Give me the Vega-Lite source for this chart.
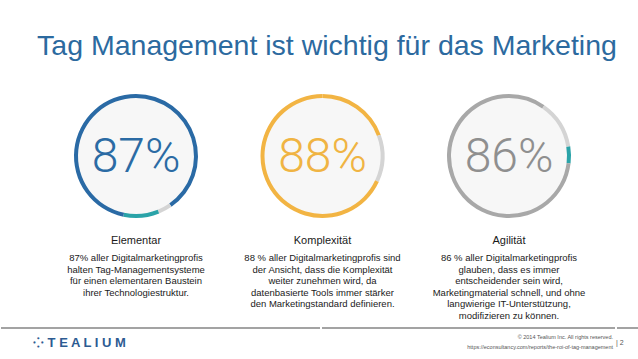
{
  "$schema": "https://vega.github.io/schema/vega-lite/v6.json",
  "background": "white",
  "padding": {"left": 0, "right": 0, "top": 31, "bottom": 0},
  "config": {
    "view": {"stroke": null},
    "font": "Liberation Sans",
    "title": {"font": "Liberation Sans"},
    "header": {"labelFontWeight": "normal", "labelFont": "Liberation Sans"}
  },
  "datasets": {
    "rings": [
      {"name": "Elementar", "pct": "87%", "seg": "blau", "order": 1, "value": 40.3},
      {"name": "Elementar", "pct": "87%", "seg": "grau", "order": 2, "value": 3.6},
      {"name": "Elementar", "pct": "87%", "seg": "türkis", "order": 3, "value": 9.4},
      {"name": "Elementar", "pct": "87%", "seg": "blau", "order": 4, "value": 46.7},
      {"name": "Komplexität", "pct": "88%", "seg": "orange", "order": 1, "value": 19.4},
      {"name": "Komplexität", "pct": "88%", "seg": "grau", "order": 2, "value": 12.5},
      {"name": "Komplexität", "pct": "88%", "seg": "orange", "order": 3, "value": 68.1},
      {"name": "Agilität", "pct": "86%", "seg": "dunkelgrau", "order": 1, "value": 9.7},
      {"name": "Agilität", "pct": "86%", "seg": "grau", "order": 2, "value": 12.8},
      {"name": "Agilität", "pct": "86%", "seg": "türkis", "order": 3, "value": 4.4},
      {"name": "Agilität", "pct": "86%", "seg": "dunkelgrau", "order": 4, "value": 73.1}
    ],
    "info": [
      {"name": "Elementar", "body": "87% aller Digitalmarketingprofis\nhalten Tag-Managementsysteme\nfür einen elementaren Baustein\nihrer Technologiestruktur."},
      {"name": "Komplexität", "body": "88 % aller Digitalmarketingprofis sind\nder Ansicht, dass die Komplexität\nweiter zunehmen wird, da\ndatenbasierte Tools immer stärker\nden Marketingstandard definieren."},
      {"name": "Agilität", "body": "86 % aller Digitalmarketingprofis\nglauben, dass es immer\nentscheidender sein wird,\nMarketingmaterial schnell, und ohne\nlangwierige IT-Unterstützung,\nmodifizieren zu können."}
    ],
    "footer": [{"teil": "Fußzeile"}]
  },
  "title": {
    "text": "Tag Management ist wichtig für das Marketing",
    "fontSize": 28.5, "fontWeight": "normal", "color": "#2c6a9f",
    "anchor": "middle", "dx": 5, "offset": 31
  },
  "center": true,
  "spacing": 6,
  "vconcat": [
    {
      "data": {"name": "rings"},
      "facet": {
        "column": {
          "field": "name", "type": "nominal",
          "sort": ["Elementar", "Komplexität", "Agilität"],
          "header": {
            "title": null, "orient": "bottom", "labelOrient": "bottom",
            "labelFont": "Liberation Sans", "labelFontSize": 11, "labelFontWeight": "normal", "labelColor": "#1a1a1a",
            "labelPadding": 14
          }
        }
      },
      "spacing": 6.5,
      "spec": {
        "width": 180,
        "height": 130,
        "resolve": {"scale": {"color": "independent"}},
        "layer": [
          {
            "transform": [{"filter": "datum.order == 1"}],
            "mark": {"type": "arc", "radius": 59, "color": "#f7f7f7"},
            "encoding": {"theta": {"datum": 100, "type": "quantitative", "scale": {"domain": [0, 100]}}}
          },
          {
            "mark": {"type": "arc", "radius": 62, "radius2": 58},
            "encoding": {
              "theta": {"field": "value", "type": "quantitative", "stack": true, "scale": {"domain": [0, 100]}},
              "order": {"field": "order", "type": "quantitative"},
              "color": {
                "field": "seg", "type": "nominal", "legend": null,
                "scale": {"domain": ["blau", "türkis", "grau", "orange", "dunkelgrau"], "range": ["#2a6aa5", "#2aa3a8", "#d4d4d4", "#f2b443", "#a8a8a8"]}
              }
            }
          },
          {
            "transform": [{"filter": "datum.order == 1"}],
            "mark": {"type": "text", "font": "Roboto", "fontWeight": 300, "fontSize": 48, "baseline": "middle", "dy": 2},
            "encoding": {
              "text": {"field": "pct"},
              "color": {
                "field": "name", "type": "nominal", "legend": null,
                "scale": {"domain": ["Elementar", "Komplexität", "Agilität"], "range": ["#2b6ba4", "#f0b443", "#8f8f8f"]}
              }
            }
          }
        ]
      }
    },
    {
      "data": {"name": "info"},
      "facet": {
        "column": {
          "field": "name", "type": "nominal",
          "sort": ["Elementar", "Komplexität", "Agilität"],
          "header": {"title": null, "labels": false}
        }
      },
      "spacing": 6.5,
      "spec": {
        "width": 180,
        "height": 2,
        "mark": {"type": "text", "baseline": "top", "lineBreak": "\n", "fontSize": 9.5, "lineHeight": 11.6, "font": "Liberation Sans", "color": "#1a1a1a"},
        "encoding": {"text": {"field": "body"}}
      }
    },
    {
      "data": {"name": "footer"},
      "spacing": 0,
      "hconcat": [
        {
          "width": 319, "height": 1,
          "title": {"text": "⁘ T E A L I U M", "orient": "bottom", "anchor": "start", "dx": 33, "offset": 8, "fontSize": 13, "fontWeight": "bold", "color": "#2d5b92"},
          "mark": {"type": "rule", "color": "#a3a3a3", "strokeWidth": 2},
          "encoding": {"y": {"datum": 1, "type": "quantitative", "scale": {"domain": [0, 1]}, "axis": null}}
        },
        {
          "width": 293, "height": 1,
          "title": {
            "text": "© 2014 Tealium Inc.   All rights reserved.",
            "subtitle": "https://econsultancy.com/reports/the-roi-of-tag-management",
            "orient": "bottom", "anchor": "end", "dx": -3, "offset": 6,
            "fontSize": 5.5, "fontWeight": "normal", "color": "#555555",
            "subtitleFontSize": 5.5, "subtitleColor": "#555555", "subtitlePadding": 4
          },
          "mark": {"type": "rule", "color": "#a3a3a3", "strokeWidth": 2},
          "encoding": {"y": {"datum": 1, "type": "quantitative", "scale": {"domain": [0, 1]}, "axis": null}}
        },
        {
          "width": 26, "height": 1,
          "title": {"text": "|    2", "orient": "bottom", "anchor": "start", "dx": 0, "offset": 10, "fontSize": 7, "fontWeight": "normal", "color": "#555555"},
          "mark": {"type": "rule", "color": "#a3a3a3", "strokeWidth": 2},
          "encoding": {"y": {"datum": 1, "type": "quantitative", "scale": {"domain": [0, 1]}, "axis": null}}
        }
      ]
    }
  ]
}
